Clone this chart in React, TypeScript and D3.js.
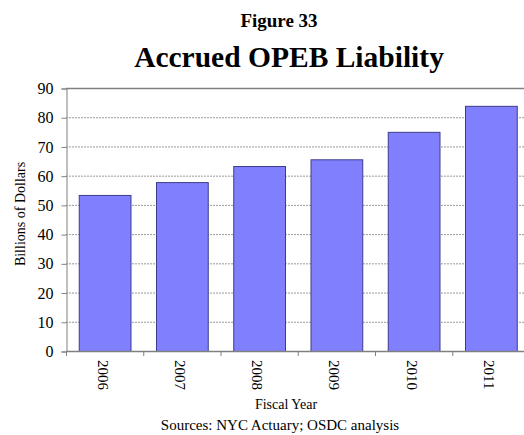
import { useEffect, useRef } from 'react';
import * as d3 from 'd3';

const years = ['2006', '2007', '2008', '2009', '2010', '2011'];
const liability = [53.4, 57.8, 63.3, 65.6, 75.0, 83.9];
const yTicks = [0, 10, 20, 30, 40, 50, 60, 70, 80, 90];

const App = () => {
    const svgRef = useRef<SVGSVGElement | null>(null);

    useEffect(() => {
        if (!svgRef.current) return;
        document.body.style.margin = '0';

        const svg = d3.select(svgRef.current);
        svg.selectAll('*').remove();

        const font = 'Liberation Serif, serif';
        const left = 66;
        const right = 529.5;
        const top = 88;
        const bottom = 351;

        const x = d3.scaleBand()
            .domain(years)
            .range([left, right])
            .paddingInner(0.33)
            .paddingOuter(0.165);

        const y = d3.scaleLinear()
            .domain([0, 90])
            .range([bottom, top]);

        // Titles
        svg.append('text')
            .attr('x', 279)
            .attr('y', 27)
            .attr('text-anchor', 'middle')
            .attr('font-family', font)
            .attr('font-weight', 700)
            .attr('font-size', '19px')
            .text('Figure 33');

        svg.append('text')
            .attr('x', 289)
            .attr('y', 67)
            .attr('text-anchor', 'middle')
            .attr('font-family', font)
            .attr('font-weight', 700)
            .attr('font-size', '29.5px')
            .text('Accrued OPEB Liability');

        // Gridlines
        svg.append('g')
            .selectAll('line')
            .data(yTicks.filter(t => t > 0 && t < 90))
            .enter()
            .append('line')
            .attr('x1', left)
            .attr('x2', right)
            .attr('y1', d => y(d) + 0.5)
            .attr('y2', d => y(d) + 0.5)
            .attr('stroke', '#9a9a9a')
            .attr('stroke-width', 1)
            .attr('stroke-dasharray', '2,1');

        // Plot top border
        svg.append('line')
            .attr('x1', left)
            .attr('x2', right)
            .attr('y1', top + 0.5)
            .attr('y2', top + 0.5)
            .attr('stroke', '#808080')
            .attr('stroke-width', 1.5);

        // Bars
        svg.append('g')
            .selectAll('rect')
            .data(liability)
            .enter()
            .append('rect')
            .attr('x', (d, i) => x(years[i])! + 0.5)
            .attr('y', d => y(d) + 0.5)
            .attr('width', x.bandwidth())
            .attr('height', d => bottom - y(d))
            .attr('fill', '#8080ff')
            .attr('stroke', '#3c3c8c')
            .attr('stroke-width', 1);

        // Y axis
        const yAxis = svg.append('g')
            .attr('transform', `translate(${left + 0.5},0.5)`)
            .call(d3.axisLeft(y).tickValues(yTicks).tickSize(5).tickPadding(8));
        yAxis.select('.domain').attr('stroke', '#808080');
        yAxis.selectAll('.tick line').attr('stroke', '#808080');
        yAxis.selectAll('.tick text')
            .attr('font-family', font)
            .attr('font-size', '16px')
            .attr('fill', '#000');

        // X axis
        svg.append('line')
            .attr('x1', left)
            .attr('x2', right)
            .attr('y1', bottom + 0.5)
            .attr('y2', bottom + 0.5)
            .attr('stroke', '#808080')
            .attr('stroke-width', 1.5);

        const step = x.step();
        svg.append('g')
            .selectAll('line')
            .data(d3.range(years.length + 1))
            .enter()
            .append('line')
            .attr('x1', i => left + i * step + 0.5)
            .attr('x2', i => left + i * step + 0.5)
            .attr('y1', bottom)
            .attr('y2', bottom + 5)
            .attr('stroke', '#808080');

        svg.append('g')
            .selectAll('text')
            .data(years)
            .enter()
            .append('text')
            .attr('transform', d => `translate(${x(d)! + x.bandwidth() / 2 - 7},${bottom + 9}) rotate(90)`)
            .attr('text-anchor', 'start')
            .attr('font-family', font)
            .attr('font-size', '15px')
            .text(d => d);

        // Axis titles
        svg.append('text')
            .attr('transform', `translate(25,214) rotate(-90)`)
            .attr('text-anchor', 'middle')
            .attr('font-family', font)
            .attr('font-size', '14px')
            .text('Billions of Dollars');

        svg.append('text')
            .attr('x', 286)
            .attr('y', 409)
            .attr('text-anchor', 'middle')
            .attr('font-family', font)
            .attr('font-size', '14px')
            .text('Fiscal Year');

        svg.append('text')
            .attr('x', 280)
            .attr('y', 430)
            .attr('text-anchor', 'middle')
            .attr('font-family', font)
            .attr('font-size', '15px')
            .text('Sources: NYC Actuary; OSDC analysis');
    }, []);

    return (
        <svg
            ref={svgRef}
            width={524}
            height={435}
            style={{ position: 'absolute', left: 0, top: 0, background: '#fff' }}
        />
    );
};

export default App;
